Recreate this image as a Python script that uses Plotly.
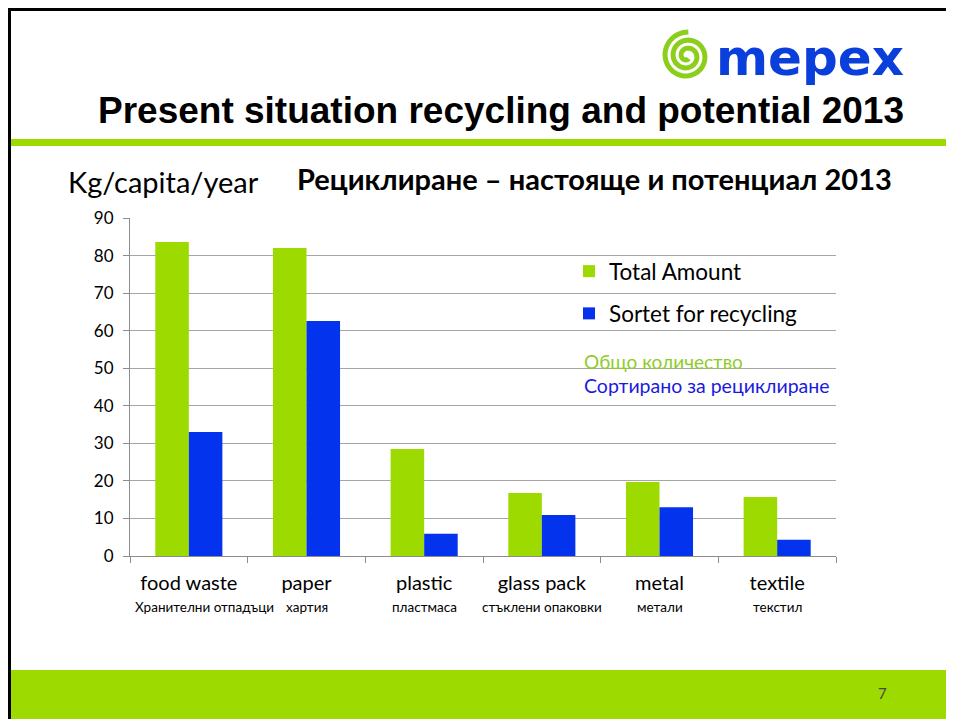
import numpy as np
import plotly.graph_objects as go

# ── data ─────────────────────────────────────────────
categories = ["food waste", "paper", "plastic", "glass pack", "metal", "textile"]
categories_bg = ["Хранителни отпадъци", "хартия", "пластмаса",
                 "стъклени опаковки", "метали", "текстил"]
total_amount = [83.6, 82.0, 28.5, 16.8, 19.7, 15.7]
sorted_recycling = [33.0, 62.6, 5.9, 10.9, 13.0, 4.3]
y_ticks = [0, 10, 20, 30, 40, 50, 60, 70, 80, 90]

GREEN = "#9ddb00"
BLUE = "#0433ee"
LOGO_BLUE = "#0a3fdc"
FONT = "Lato, 'Open Sans', sans-serif"

# the page body adds an 8px margin, so the figure is 8px smaller and
# slide coordinates are shifted by that offset
OFF = 8
W, H = 954 - OFF, 719 - OFF


def px(x):
    return (x - OFF) / W


def py(y):
    return 1 - (y - OFF) / H


fig = go.Figure()
fig.add_trace(go.Bar(
    x=categories, y=total_amount, name="Total Amount",
    marker=dict(color=GREEN, line=dict(width=0)), legendgroup="a",
))
fig.add_trace(go.Bar(
    x=categories, y=sorted_recycling, name="Sortet for recycling",
    marker=dict(color=BLUE, line=dict(width=0)), legendgroup="b",
))

shapes = [
    # slide frame
    dict(type="line", xref="paper", yref="paper", x0=px(9), x1=1.0, y0=py(9.5), y1=py(9.5),
         line=dict(color="black", width=3)),
    dict(type="line", xref="paper", yref="paper", x0=px(9.5), x1=px(9.5), y0=py(8), y1=0,
         line=dict(color="black", width=3)),
    # green header rule
    dict(type="rect", xref="paper", yref="paper", x0=px(11), x1=1.0, y0=py(146), y1=py(139),
         fillcolor=GREEN, line=dict(width=0)),
    # green footer band
    dict(type="rect", xref="paper", yref="paper", x0=px(11), x1=1.0, y0=0, y1=py(670),
         fillcolor=GREEN, line=dict(width=0), layer="below"),
]

# logo spiral
t = np.linspace(0, 2.6 * 2 * np.pi, 160)
r = 3 + 21 * t / t[-1]
cx, cy = 687, 56
sx = cx + r * np.cos(t + 1.0)
sy = cy + r * np.sin(t + 1.0)
path = "M " + " L ".join(f"{px(a):.5f},{py(b):.5f}" for a, b in zip(sx, sy))
shapes.append(dict(type="path", xref="paper", yref="paper", path=path,
                   line=dict(color="#8ccf1a", width=5)))

annotations = [
    dict(text="mepex", x=px(810), y=py(58), xref="paper", yref="paper",
         showarrow=False, font=dict(family="'DejaVu Sans', sans-serif", size=50,
                                    color=LOGO_BLUE, weight="bold"),
         xanchor="center", yanchor="middle"),
    dict(text="<b>Present situation recycling and potential 2013</b>",
         x=px(501), y=py(110), xref="paper", yref="paper", showarrow=False,
         font=dict(family="'Liberation Sans', Arial, sans-serif", size=37, color="black"),
         xanchor="center", yanchor="middle"),
    dict(text="Kg/capita/year", x=px(66), y=py(181), xref="paper", yref="paper",
         showarrow=False, font=dict(family=FONT, size=29, color="black"),
         xanchor="left", yanchor="middle"),
    dict(text="<b>Рециклиране – настояще и потенциал 2013</b>",
         x=px(594), y=py(179), xref="paper", yref="paper", showarrow=False,
         font=dict(family=FONT, size=29, color="black"),
         xanchor="center", yanchor="middle"),
    dict(text="Общо количество", x=px(582), y=py(361), xref="paper", yref="paper",
         showarrow=False, font=dict(family=FONT, size=19, color="#8fcc2a"),
         xanchor="left", yanchor="middle"),
    dict(text="Сортирано за рециклиране", x=px(582), y=py(386), xref="paper", yref="paper",
         showarrow=False, font=dict(family=FONT, size=19.5, color="#1a1adf"),
         xanchor="left", yanchor="middle"),
    dict(text="7", x=px(882), y=py(693), xref="paper", yref="paper", showarrow=False,
         font=dict(family=FONT, size=15, color="#444"), xanchor="center", yanchor="middle"),
]
for cat, sub in zip(categories, categories_bg):
    annotations.append(dict(text=sub, x=cat, y=py(607), xref="x", yref="paper",
                            showarrow=False, font=dict(family=FONT, size=13.5, color="black"),
                            xanchor="center", yanchor="middle"))
annotations[-6]["xshift"] = 16

fig.update_layout(
    width=W, height=H,
    margin=dict(l=0, r=0, t=0, b=0, pad=0, autoexpand=False),
    paper_bgcolor="white", plot_bgcolor="white",
    barmode="group", bargap=0.43, bargroupgap=0,
    font=dict(family=FONT, color="black"),
    xaxis=dict(
        domain=[px(130), px(836)], automargin=False,
        showline=True, linecolor="#8c8c8c", linewidth=1,
        ticks="outside", tickson="boundaries", ticklen=6, tickcolor="#8c8c8c",
        tickfont=dict(size=20, color="black"), ticklabelstandoff=9,
        showgrid=False,
    ),
    yaxis=dict(
        domain=[py(556), py(218)], automargin=False,
        range=[0, 90], tickvals=y_ticks,
        showline=True, linecolor="#8c8c8c", linewidth=1,
        ticks="outside", ticklen=6, tickcolor="#8c8c8c",
        tickfont=dict(size=17, color="black"), ticklabelstandoff=6,
        showgrid=True, gridcolor="#a6a6a6", gridwidth=1,
        zeroline=False,
    ),
    legend=dict(
        x=px(569), y=py(250), xanchor="left", yanchor="top",
        font=dict(size=22.5, color="black", family=FONT),
        bgcolor="rgba(0,0,0,0)", traceorder="grouped", tracegroupgap=10,
        itemwidth=30,
    ),
    showlegend=True,
    shapes=shapes,
    annotations=annotations,
)

fig.write_html("out.html")
